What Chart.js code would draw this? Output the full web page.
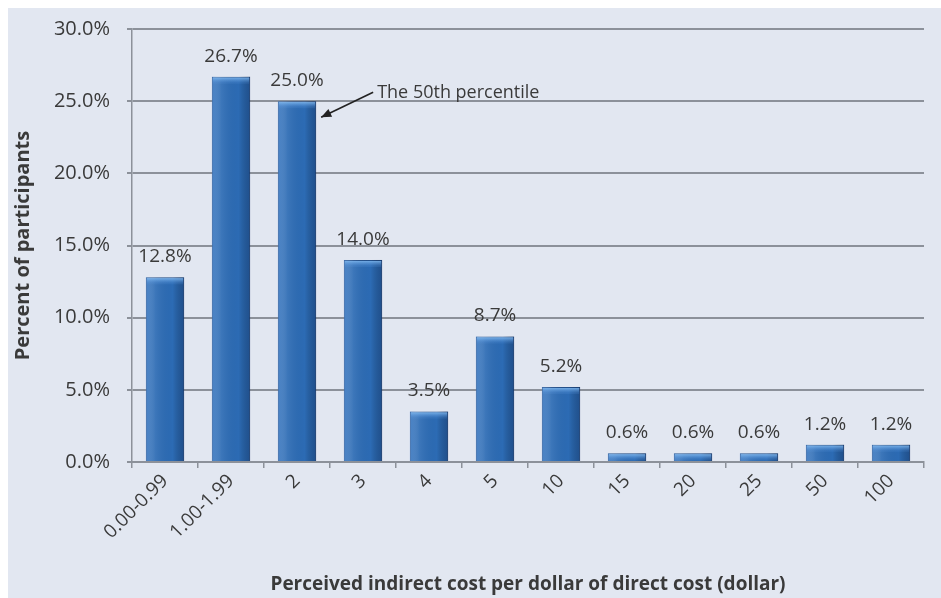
<!DOCTYPE html>
<html>
<head>
<meta charset="utf-8">
<script src="https://cdn.jsdelivr.net/npm/chart.js@4"></script>
<style>
  body { margin: 0; background: #ffffff; }
  canvas { display: block; }
</style>
</head>
<body>
<canvas id="costChart" width="941" height="598"></canvas>
<script>
// Data
const categories = ['0.00-0.99', '1.00-1.99', '2', '3', '4', '5', '10', '15', '20', '25', '50', '100'];
const percentValues = [12.8, 26.7, 25.0, 14.0, 3.5, 8.7, 5.2, 0.6, 0.6, 0.6, 1.2, 1.2];
const yTicks = [0, 5, 10, 15, 20, 25, 30];
const noteText = 'The 50th percentile';
const noteIndex = 2;

const fontFamily = '"Open Sans", Lato, sans-serif';
const textColor = '#3a3a3a';

// background panel behind everything
const panelPlugin = {
    id: 'panel',
    beforeDraw(chart) {
        const ctx = chart.ctx;
        ctx.save();
        ctx.fillStyle = '#ffffff';
        ctx.fillRect(0, 0, chart.width, chart.height);
        ctx.fillStyle = '#e2e7f1';
        ctx.fillRect(8, 8, chart.width - 8, chart.height - 8);
        ctx.restore();
    }
};

// shading on the bars + value labels + the arrow note
const barDecor = {
    id: 'barDecor',
    afterDatasetsDraw(chart) {
        const ctx = chart.ctx;
        const bars = chart.getDatasetMeta(0).data;
        ctx.save();
        bars.forEach((bar, i) => {
            const left = bar.x - bar.width / 2;
            const right = bar.x + bar.width / 2;
            const top = bar.y;
            const h = bar.base - bar.y;
            // horizontal shading, lighter on the left, darker on the right
            const g = ctx.createLinearGradient(left, 0, right, 0);
            g.addColorStop(0, 'rgba(120,170,230,0.35)');
            g.addColorStop(0.25, 'rgba(255,255,255,0.08)');
            g.addColorStop(0.7, 'rgba(0,0,0,0)');
            g.addColorStop(1, 'rgba(10,30,70,0.35)');
            ctx.fillStyle = g;
            ctx.fillRect(left, top, bar.width, h);
            // light cap on top
            const capH = Math.min(6, h);
            const cg = ctx.createLinearGradient(0, top, 0, top + capH);
            cg.addColorStop(0, 'rgba(140,195,245,0.95)');
            cg.addColorStop(1, 'rgba(90,150,220,0.2)');
            ctx.fillStyle = cg;
            ctx.fillRect(left + 1, top + 1, bar.width - 2, capH);

            // value label
            ctx.fillStyle = textColor;
            ctx.font = '19px ' + fontFamily;
            ctx.textAlign = 'center';
            ctx.textBaseline = 'bottom';
            ctx.fillText(percentValues[i].toFixed(1) + '%', bar.x, top - 11);
        });

        // arrow pointing at the median bar
        const mb = bars[noteIndex];
        const tipX = mb.x + mb.width / 2 + 5;
        const tipY = mb.y + 16;
        const tailX = tipX + 52;
        const tailY = tipY - 25;
        ctx.strokeStyle = '#222222';
        ctx.fillStyle = '#222222';
        ctx.lineWidth = 1.6;
        ctx.beginPath();
        ctx.moveTo(tailX, tailY);
        ctx.lineTo(tipX, tipY);
        ctx.stroke();
        const ang = Math.atan2(tipY - tailY, tipX - tailX);
        ctx.beginPath();
        ctx.moveTo(tipX, tipY);
        ctx.lineTo(tipX - 11 * Math.cos(ang - 0.4), tipY - 11 * Math.sin(ang - 0.4));
        ctx.lineTo(tipX - 11 * Math.cos(ang + 0.4), tipY - 11 * Math.sin(ang + 0.4));
        ctx.closePath();
        ctx.fill();
        ctx.fillStyle = textColor;
        ctx.font = '18px ' + fontFamily;
        ctx.textAlign = 'left';
        ctx.textBaseline = 'middle';
        ctx.fillText(noteText, tailX + 4, tailY + 1);
        ctx.restore();
    }
};

const ctx = document.getElementById('costChart').getContext('2d');
new Chart(ctx, {
    type: 'bar',
    data: {
        labels: categories,
        datasets: [{
            label: 'Percent of participants',
            data: percentValues,
            backgroundColor: '#2c6bb4',
            borderColor: '#1d4a86',
            borderWidth: 1,
            barPercentage: 0.58,
            categoryPercentage: 1.0
        }]
    },
    options: {
        responsive: false,
        animation: false,
        maintainAspectRatio: false,
        layout: { padding: { top: 27, right: 17, left: 0, bottom: 0 } },
        plugins: {
            legend: { display: false },
            tooltip: { enabled: false }
        },
        scales: {
            x: {
                offset: true,
                afterFit(scale) { scale.height = 136; },
                grid: {
                    display: true,
                    offset: true,
                    drawOnChartArea: false,
                    drawTicks: true,
                    tickLength: 6,
                    color: '#8c919a',
                    lineWidth: 1.5
                },
                border: { display: true, color: '#8c919a', width: 2 },
                ticks: {
                    color: textColor,
                    font: { family: fontFamily, size: 19 },
                    minRotation: 45,
                    maxRotation: 45,
                    padding: 2
                },
                title: {
                    display: true,
                    text: 'Perceived indirect cost per dollar of direct cost (dollar)',
                    color: textColor,
                    font: { family: fontFamily, size: 19, weight: 'bold' },
                    padding: { top: 0, bottom: 2 }
                }
            },
            y: {
                min: 0,
                max: 30,
                afterFit(scale) { scale.width = 132; },
                afterBuildTicks(scale) { scale.ticks = yTicks.map(v => ({ value: v })); },
                grid: {
                    color: '#8c919a',
                    lineWidth: 2,
                    drawTicks: true,
                    tickLength: 5
                },
                border: { display: true, color: '#8c919a', width: 1.5 },
                ticks: {
                    color: textColor,
                    font: { family: fontFamily, size: 20 },
                    padding: 17,
                    callback: v => Number(v).toFixed(1) + '%'
                },
                title: {
                    display: true,
                    text: 'Percent of participants',
                    color: textColor,
                    font: { family: fontFamily, size: 20, weight: 'bold' },
                    padding: { top: 11, bottom: 0 }
                }
            }
        }
    },
    plugins: [panelPlugin, barDecor]
});
</script>
</body>
</html>
